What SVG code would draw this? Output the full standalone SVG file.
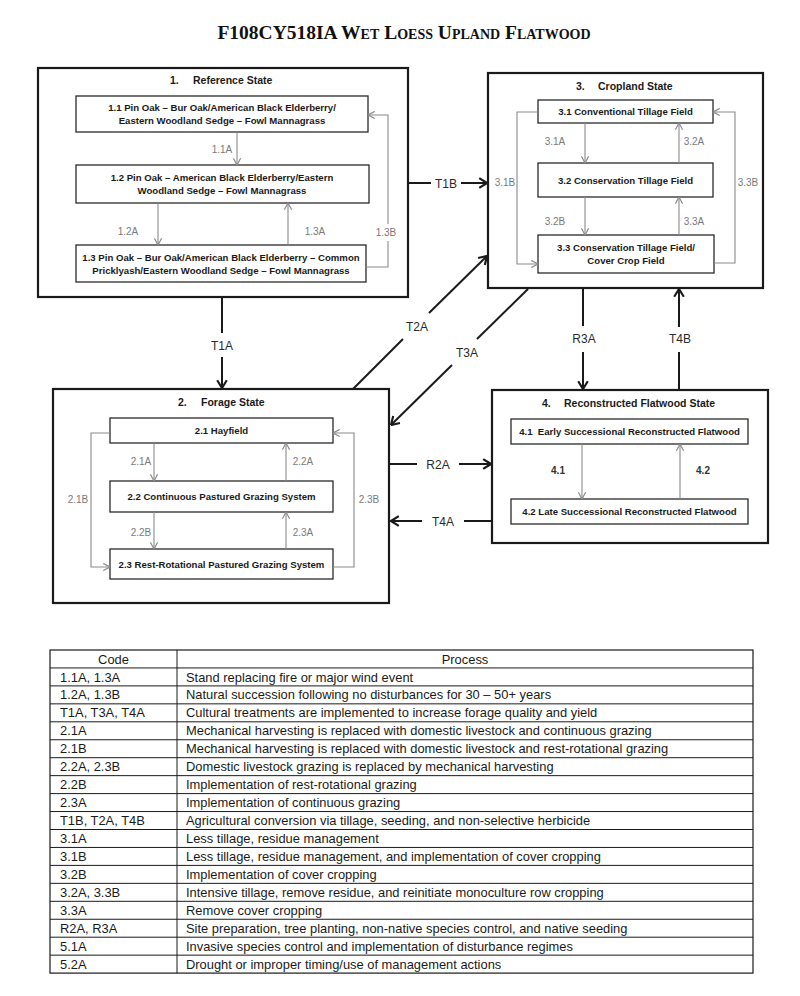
<svg xmlns="http://www.w3.org/2000/svg" width="800" height="996" viewBox="0 0 800 996">
<style>
.bg{fill:#fff}
.state{fill:none;stroke:#1a1a1a;stroke-width:2.2}
.box{fill:#fff;stroke:#2a2a2a;stroke-width:1.3}
.st{font-family:"Liberation Sans",Arial,sans-serif;font-weight:bold;font-size:10.5px;fill:#1a1a1a}
.nt{font-family:"Liberation Sans",Arial,sans-serif;font-weight:bold;font-size:9.6px;fill:#1a1a1a;text-anchor:middle}
.gl{font-family:"Liberation Sans",Arial,sans-serif;font-size:10px;fill:#7a7a7a;text-anchor:middle}
.bl{font-family:"Liberation Sans",Arial,sans-serif;font-weight:bold;font-size:10px;fill:#333;text-anchor:middle}
.ol{font-family:"Liberation Sans",Arial,sans-serif;font-size:12px;fill:#2a2a2a;text-anchor:middle}
.gc{fill:none;stroke:#8a8a8a;stroke-width:1.1}
.oc{fill:none;stroke:#1a1a1a;stroke-width:2}
.tl{stroke:#1a1a1a;stroke-width:1}
.tt{font-family:"Liberation Sans",Arial,sans-serif;font-size:12.9px;fill:#1a1a1a}
.th{font-family:"Liberation Sans",Arial,sans-serif;font-size:12.9px;fill:#1a1a1a;text-anchor:middle}
</style>
<defs>
<marker id="ga" markerUnits="userSpaceOnUse" markerWidth="9" markerHeight="9" viewBox="0 0 10 10" refX="9.5" refY="5" orient="auto">
<path d="M2,1 L9.5,5 L2,9" fill="none" stroke="#8a8a8a" stroke-width="1.3"/>
</marker>
<marker id="ba" markerUnits="userSpaceOnUse" markerWidth="12" markerHeight="12" viewBox="0 0 10 10" refX="9.5" refY="5" orient="auto">
<path d="M3,1 L9.5,5 L3,9" fill="none" stroke="#1a1a1a" stroke-width="1.8"/>
</marker>
</defs>
<rect class="bg" x="0" y="0" width="800" height="996"/>
<text x="404" y="39" text-anchor="middle" font-family="'Liberation Serif','Times New Roman',serif" font-weight="bold" font-size="19.5" font-variant="small-caps" fill="#111">F108CY518IA Wet Loess Upland Flatwood</text>

<g id="state-1">
<rect class="state" x="38" y="68" width="370" height="229"/>
<text class="st" y="84"><tspan x="170">1.</tspan><tspan x="193">Reference State</tspan></text>
</g>
<g id="node-1-1">
<rect class="box" x="76" y="96" width="292" height="36"/>
<text class="nt" x="222" y="111">1.1 Pin Oak – Bur Oak/American Black Elderberry/</text>
<text class="nt" x="222" y="124">Eastern Woodland Sedge – Fowl Mannagrass</text>
</g>
<g id="node-1-2">
<rect class="box" x="76" y="165" width="293" height="38"/>
<text class="nt" x="222" y="181">1.2 Pin Oak – American Black Elderberry/Eastern</text>
<text class="nt" x="222" y="194">Woodland Sedge – Fowl Mannagrass</text>
</g>
<g id="node-1-3">
<rect class="box" x="76" y="245" width="290" height="37"/>
<text class="nt" x="221" y="261">1.3 Pin Oak – Bur Oak/American Black Elderberry – Common</text>
<text class="nt" x="221" y="274">Pricklyash/Eastern Woodland Sedge – Fowl Mannagrass</text>
</g>

<g id="state-3">
<rect class="state" x="488" y="73" width="275" height="215"/>
<text class="st" y="90"><tspan x="576">3.</tspan><tspan x="598">Cropland State</tspan></text>
</g>
<g id="node-3-1">
<rect class="box" x="538" y="100" width="175" height="23"/>
<text class="nt" x="625.5" y="115">3.1 Conventional Tillage Field</text>
</g>
<g id="node-3-2">
<rect class="box" x="538" y="163" width="175" height="34"/>
<text class="nt" x="625.5" y="183.5">3.2 Conservation Tillage Field</text>
</g>
<g id="node-3-3">
<rect class="box" x="538" y="235" width="176" height="38"/>
<text class="nt" x="626" y="251">3.3 Conservation Tillage Field/</text>
<text class="nt" x="626" y="264">Cover Crop Field</text>
</g>

<g id="state-2">
<rect class="state" x="53" y="389" width="336" height="214"/>
<text class="st" y="406"><tspan x="178">2.</tspan><tspan x="201">Forage State</tspan></text>
</g>
<g id="node-2-1">
<rect class="box" x="110" y="418" width="223" height="25"/>
<text class="nt" x="221.5" y="434">2.1 Hayfield</text>
</g>
<g id="node-2-2">
<rect class="box" x="110" y="481" width="223" height="31"/>
<text class="nt" x="221.5" y="500">2.2 Continuous Pastured Grazing System</text>
</g>
<g id="node-2-3">
<rect class="box" x="110" y="549" width="223" height="30"/>
<text class="nt" x="221.5" y="567.5">2.3 Rest-Rotational Pastured Grazing System</text>
</g>

<g id="state-4">
<rect class="state" x="492" y="390" width="276" height="153"/>
<text class="st" y="407"><tspan x="542">4.</tspan><tspan x="564">Reconstructed Flatwood State</tspan></text>
</g>
<g id="node-4-1">
<rect class="box" x="511" y="419" width="237" height="25"/>
<text class="nt" x="629.5" y="435" xml:space="preserve">4.1  Early Successional Reconstructed Flatwood</text>
</g>
<g id="node-4-2">
<rect class="box" x="511" y="499" width="237" height="25"/>
<text class="nt" x="629.5" y="515">4.2 Late Successional Reconstructed Flatwood</text>
</g>

<g id="connectors">
<line class="gc" x1="237" y1="132" x2="237" y2="165" marker-end="url(#ga)"/>
<line class="gc" x1="158" y1="203" x2="158" y2="245" marker-end="url(#ga)"/>
<line class="gc" x1="288" y1="245" x2="288" y2="203" marker-end="url(#ga)"/>
<polyline class="gc" points="366,267 388,267 388,241"/>
<polyline class="gc" points="388,224 388,115 368,115" marker-end="url(#ga)"/>
<text class="gl" x="222" y="153">1.1A</text>
<text class="gl" x="128" y="235">1.2A</text>
<text class="gl" x="315" y="235">1.3A</text>
<text class="gl" x="386" y="236">1.3B</text>

<line class="gc" x1="585" y1="123" x2="585" y2="163" marker-end="url(#ga)"/>
<line class="gc" x1="679" y1="163" x2="679" y2="123" marker-end="url(#ga)"/>
<line class="gc" x1="585" y1="197" x2="585" y2="235" marker-end="url(#ga)"/>
<line class="gc" x1="679" y1="235" x2="679" y2="197" marker-end="url(#ga)"/>
<polyline class="gc" points="538,112 517,112 517,264 538,264" marker-end="url(#ga)"/>
<polyline class="gc" points="714,263 735,263 735,112 713,112" marker-end="url(#ga)"/>
<text class="gl" x="555" y="145">3.1A</text>
<text class="gl" x="694" y="145">3.2A</text>
<text class="gl" x="555" y="225">3.2B</text>
<text class="gl" x="694" y="225">3.3A</text>
<text class="gl" x="505" y="186">3.1B</text>
<text class="gl" x="748" y="186">3.3B</text>

<line class="gc" x1="154" y1="443" x2="154" y2="481" marker-end="url(#ga)"/>
<line class="gc" x1="286" y1="481" x2="286" y2="443" marker-end="url(#ga)"/>
<line class="gc" x1="154" y1="512" x2="154" y2="549" marker-end="url(#ga)"/>
<line class="gc" x1="286" y1="549" x2="286" y2="512" marker-end="url(#ga)"/>
<polyline class="gc" points="110,433 91,433 91,567 110,567" marker-end="url(#ga)"/>
<polyline class="gc" points="333,567 354,567 354,433 333,433" marker-end="url(#ga)"/>
<text class="gl" x="141" y="465">2.1A</text>
<text class="gl" x="303" y="465">2.2A</text>
<text class="gl" x="141" y="536">2.2B</text>
<text class="gl" x="303" y="536">2.3A</text>
<text class="gl" x="78" y="503">2.1B</text>
<text class="gl" x="369" y="503">2.3B</text>

<line class="gc" x1="582" y1="444" x2="582" y2="499" marker-end="url(#ga)"/>
<line class="gc" x1="680" y1="499" x2="680" y2="444" marker-end="url(#ga)"/>
<text class="bl" x="558" y="474">4.1</text>
<text class="bl" x="703" y="474">4.2</text>

<line class="oc" x1="409" y1="183" x2="431" y2="183"/>
<line class="oc" x1="461" y1="183" x2="487" y2="183" marker-end="url(#ba)"/>
<text class="ol" x="446" y="187.5">T1B</text>

<line class="oc" x1="222" y1="298" x2="222" y2="333"/>
<line class="oc" x1="222" y1="357" x2="222" y2="388" marker-end="url(#ba)"/>
<text class="ol" x="222" y="349.5">T1A</text>

<line class="oc" x1="353" y1="389" x2="403" y2="339"/>
<line class="oc" x1="429" y1="313" x2="487" y2="256" marker-end="url(#ba)"/>
<text class="ol" x="417" y="330.5">T2A</text>

<line class="oc" x1="528" y1="289" x2="477" y2="339"/>
<line class="oc" x1="452" y1="365" x2="391" y2="425" marker-end="url(#ba)"/>
<text class="ol" x="467" y="356.5">T3A</text>

<line class="oc" x1="583" y1="289" x2="583" y2="326"/>
<line class="oc" x1="583" y1="352" x2="583" y2="389" marker-end="url(#ba)"/>
<text class="ol" x="584" y="342.5">R3A</text>

<line class="oc" x1="679" y1="389" x2="679" y2="352"/>
<line class="oc" x1="679" y1="327" x2="679" y2="289" marker-end="url(#ba)"/>
<text class="ol" x="680" y="342.5">T4B</text>

<line class="oc" x1="390" y1="464" x2="417" y2="464"/>
<line class="oc" x1="459" y1="464" x2="491" y2="464" marker-end="url(#ba)"/>
<text class="ol" x="438" y="468.5">R2A</text>

<line class="oc" x1="492" y1="521" x2="464" y2="521"/>
<line class="oc" x1="422" y1="521" x2="391" y2="521" marker-end="url(#ba)"/>
<text class="ol" x="443" y="525.5">T4A</text>
</g>

<g id="table">
<rect x="50" y="650" width="703" height="323.1" fill="none" stroke="#1a1a1a" stroke-width="1.2"/>
<line class="tl" x1="177" y1="650" x2="177" y2="973.1"/>
<line class="tl" x1="50" y1="667.95" x2="753" y2="667.95"/>
<line class="tl" x1="50" y1="685.9" x2="753" y2="685.9"/>
<line class="tl" x1="50" y1="703.85" x2="753" y2="703.85"/>
<line class="tl" x1="50" y1="721.8" x2="753" y2="721.8"/>
<line class="tl" x1="50" y1="739.75" x2="753" y2="739.75"/>
<line class="tl" x1="50" y1="757.7" x2="753" y2="757.7"/>
<line class="tl" x1="50" y1="775.65" x2="753" y2="775.65"/>
<line class="tl" x1="50" y1="793.6" x2="753" y2="793.6"/>
<line class="tl" x1="50" y1="811.55" x2="753" y2="811.55"/>
<line class="tl" x1="50" y1="829.5" x2="753" y2="829.5"/>
<line class="tl" x1="50" y1="847.45" x2="753" y2="847.45"/>
<line class="tl" x1="50" y1="865.4" x2="753" y2="865.4"/>
<line class="tl" x1="50" y1="883.35" x2="753" y2="883.35"/>
<line class="tl" x1="50" y1="901.3" x2="753" y2="901.3"/>
<line class="tl" x1="50" y1="919.25" x2="753" y2="919.25"/>
<line class="tl" x1="50" y1="937.2" x2="753" y2="937.2"/>
<line class="tl" x1="50" y1="955.15" x2="753" y2="955.15"/>
<text class="th" x="113.5" y="663.5">Code</text>
<text class="th" x="465" y="663.5">Process</text>
<text class="tt" x="60" y="681.5">1.1A, 1.3A</text><text class="tt" x="186" y="681.5">Stand replacing fire or major wind event</text>
<text class="tt" x="60" y="699.4">1.2A, 1.3B</text><text class="tt" x="186" y="699.4">Natural succession following no disturbances for 30 – 50+ years</text>
<text class="tt" x="60" y="717.4">T1A, T3A, T4A</text><text class="tt" x="186" y="717.4">Cultural treatments are implemented to increase forage quality and yield</text>
<text class="tt" x="60" y="735.3">2.1A</text><text class="tt" x="186" y="735.3">Mechanical harvesting is replaced with domestic livestock and continuous grazing</text>
<text class="tt" x="60" y="753.3">2.1B</text><text class="tt" x="186" y="753.3">Mechanical harvesting is replaced with domestic livestock and rest-rotational grazing</text>
<text class="tt" x="60" y="771.2">2.2A, 2.3B</text><text class="tt" x="186" y="771.2">Domestic livestock grazing is replaced by mechanical harvesting</text>
<text class="tt" x="60" y="789.2">2.2B</text><text class="tt" x="186" y="789.2">Implementation of rest-rotational grazing</text>
<text class="tt" x="60" y="807.1">2.3A</text><text class="tt" x="186" y="807.1">Implementation of continuous grazing</text>
<text class="tt" x="60" y="825.1">T1B, T2A, T4B</text><text class="tt" x="186" y="825.1">Agricultural conversion via tillage, seeding, and non-selective herbicide</text>
<text class="tt" x="60" y="843">3.1A</text><text class="tt" x="186" y="843">Less tillage, residue management</text>
<text class="tt" x="60" y="861">3.1B</text><text class="tt" x="186" y="861">Less tillage, residue management, and implementation of cover cropping</text>
<text class="tt" x="60" y="878.9">3.2B</text><text class="tt" x="186" y="878.9">Implementation of cover cropping</text>
<text class="tt" x="60" y="896.9">3.2A, 3.3B</text><text class="tt" x="186" y="896.9">Intensive tillage, remove residue, and reinitiate monoculture row cropping</text>
<text class="tt" x="60" y="914.8">3.3A</text><text class="tt" x="186" y="914.8">Remove cover cropping</text>
<text class="tt" x="60" y="932.8">R2A, R3A</text><text class="tt" x="186" y="932.8">Site preparation, tree planting, non-native species control, and native seeding</text>
<text class="tt" x="60" y="950.7">5.1A</text><text class="tt" x="186" y="950.7">Invasive species control and implementation of disturbance regimes</text>
<text class="tt" x="60" y="968.7">5.2A</text><text class="tt" x="186" y="968.7">Drought or improper timing/use of management actions</text>
</g>
</svg>
